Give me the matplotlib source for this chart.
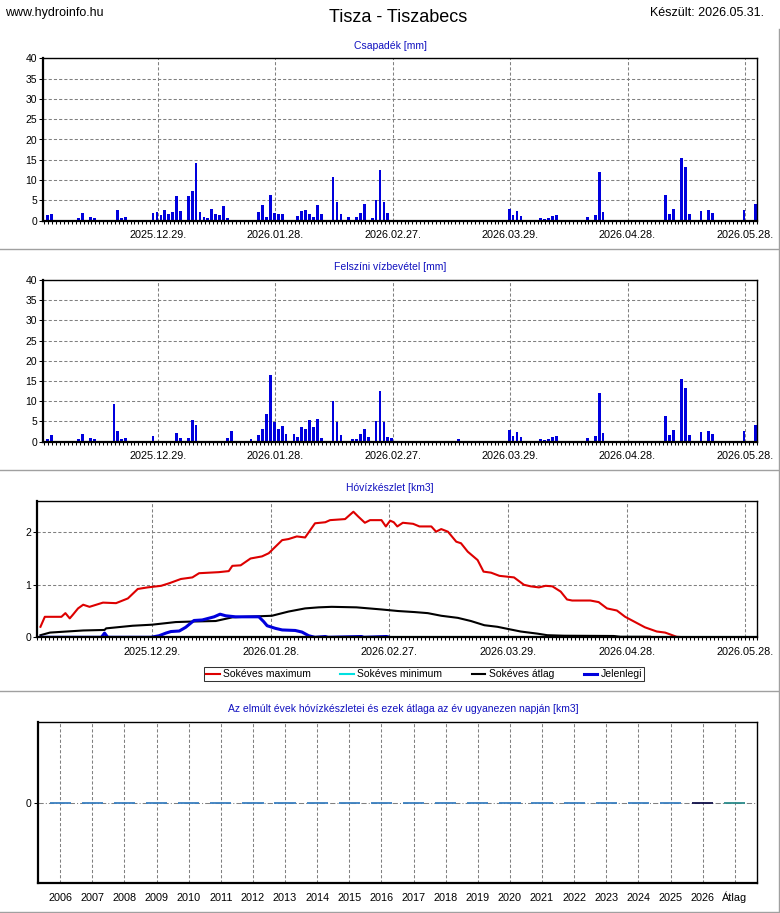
import numpy as np
import matplotlib
matplotlib.use('Agg')
import matplotlib.pyplot as plt
from matplotlib.lines import Line2D

plt.rcParams['font.family'] = ['Liberation Sans', 'DejaVu Sans']
plt.rcParams['font.size'] = 7.5

W, H = 780, 913

# napok sorszáma 2025.11.30-tól
tick_days = [29, 59, 89, 119, 149, 179]
tick_labels = ['2025.12.29.', '2026.01.28.', '2026.02.27.',
               '2026.03.29.', '2026.04.28.', '2026.05.28.']

# Csapadék [mm]
csap_days = [1, 2, 9, 10, 12, 13, 19, 20, 21,
             28, 29, 30, 31, 32, 33, 34, 35,
             37, 38, 39, 40, 41, 42, 43, 44, 45, 46, 47,
             55, 56, 57, 58, 59, 60, 61,
             65, 66, 67, 68, 69, 70, 71,
             74, 75, 76, 78, 80, 81, 82, 84, 85, 86, 87, 88,
             110, 119, 120, 121, 122, 127, 128, 129, 130, 131, 132,
             139, 141, 142, 143, 148, 159, 160, 161, 163, 164, 165,
             168, 170, 171, 172, 173, 179, 182]
csap_vals = [1.4, 1.7, 0.7, 1.9, 0.9, 0.7, 2.6, 0.7, 0.9,
             1.9, 2.1, 1.4, 2.6, 1.7, 2.1, 6.1, 2.4,
             6.1, 7.4, 14.3, 2.1, 0.9, 0.7, 2.9, 1.7, 1.4, 3.6, 0.7,
             2.1, 3.9, 0.9, 6.4, 1.9, 1.7, 1.7,
             1.2, 2.4, 2.6, 1.7, 0.9, 3.9, 1.7,
             10.8, 4.6, 1.7, 0.9, 0.9, 1.9, 4.1, 0.7, 5.1, 12.6, 4.6, 1.9,
             0.1, 2.9, 1.4, 2.4, 1.2, 0.7, 0.4, 0.7, 1.2, 1.4, 0.1,
             0.9, 1.4, 12.1, 2.1, 0.1, 6.4, 1.7, 2.9, 15.5, 13.3, 1.7,
             2.4, 2.6, 1.9, 0.1, 0.1, 2.6, 4.1]

# Felszíni vízbevétel [mm]
viz_days = [1, 2, 9, 10, 12, 13, 18, 19, 20, 21, 28,
            34, 35, 37, 38, 39, 47, 48, 53,
            55, 56, 57, 58, 59, 60, 61, 62,
            64, 65, 66, 67, 68, 69, 70, 71,
            74, 75, 76, 79, 80, 81, 82, 83, 85, 86, 87, 88, 89,
            106, 110, 119, 120, 121, 122, 127, 128, 129, 130, 131, 132,
            139, 141, 142, 143, 148, 159, 160, 161, 163, 164, 165,
            168, 170, 171, 172, 173, 179, 182]
viz_vals = [0.7, 1.7, 0.7, 1.9, 0.9, 0.7, 9.3, 2.6, 0.7, 0.9, 1.4,
            2.1, 0.9, 0.9, 5.4, 4.1, 0.9, 2.6, 0.7,
            1.7, 3.1, 6.9, 16.5, 4.9, 3.1, 3.9, 1.9,
            1.9, 1.2, 3.6, 3.1, 5.4, 3.6, 5.6, 0.9,
            10.1, 4.9, 1.7, 0.7, 0.7, 1.9, 3.1, 1.2, 5.1, 12.6, 4.8, 1.2, 0.9,
            0.7, 0.1, 2.9, 1.4, 2.4, 1.2, 0.7, 0.4, 0.7, 1.2, 1.4, 0.1,
            0.9, 1.4, 12.1, 2.1, 0.1, 6.4, 1.7, 2.9, 15.5, 13.3, 1.7,
            2.4, 2.6, 1.9, 0.1, 0.1, 2.6, 4.1]

# Hóvízkészlet [km3]
max_days = [0.8, 1.9, 6.1, 7.1, 8.2, 9, 10.3, 11.6, 13.2, 14.9, 16.6, 19.9,
            22.9, 25.4, 27.9, 31.3, 33.4, 36.3, 39.2, 40.9, 45.9, 48.4, 49.3,
            51.4, 53.9, 56.8, 58.5, 61.9, 63.5, 65.6, 67.7, 70.2, 72.8, 74,
            77.8, 79.9, 81.1, 82.8, 84.1, 87, 88.1, 89.2, 90.1, 91, 92.4, 95,
            96.6, 99.6, 100.8, 102.1, 103.8, 105.9, 107.1, 108.8, 111.3, 112.8,
            114.7, 116.8, 120.5, 123, 124.7, 126.8, 128.5, 130.2, 132.3, 133.9,
            135.2, 139.8, 141.9, 144, 146.5, 148.6, 151.1, 153.6, 156.6, 158.7,
            161.6, 163.7]
max_vals = [0.2, 0.39, 0.39, 0.46, 0.36, 0.43, 0.55, 0.62, 0.58, 0.62, 0.66, 0.65,
            0.74, 0.92, 0.95, 0.98, 1.03, 1.11, 1.14, 1.22, 1.24, 1.26, 1.36,
            1.37, 1.5, 1.54, 1.6, 1.85, 1.87, 1.92, 1.9, 2.17, 2.19, 2.23,
            2.25, 2.39, 2.3, 2.18, 2.23, 2.23, 2.11, 2.22, 2.19, 2.11, 2.18, 2.16,
            2.11, 2.11, 2.01, 2.06, 2.01, 1.82, 1.79, 1.63, 1.47, 1.25,
            1.23, 1.17, 1.14, 1.0, 0.97, 0.95, 0.98, 0.97, 0.87, 0.72,
            0.7, 0.7, 0.67, 0.55, 0.51, 0.39, 0.29, 0.19, 0.11, 0.09,
            0.01, 0.0]
min_days = [0.8, 181.9]
min_vals = [0.0, 0.0]
atl_days = [0.8, 3.2, 7.4, 11.6, 17, 17.4, 24.1, 29, 35, 39.2, 45.1, 49.3, 59.3,
            63.5, 67.7, 71.1, 74.4, 80.7, 87, 91.2, 95.4, 98.7, 102.1, 106.3,
            109.6, 113, 116.3, 118.9, 122.2, 126.4, 128.9, 133.1, 145.7, 147.4,
            154.9]
atl_vals = [0.04, 0.09, 0.11, 0.13, 0.14, 0.17, 0.22, 0.24, 0.29, 0.3, 0.31, 0.38, 0.41,
            0.49, 0.55, 0.57, 0.58, 0.57, 0.53, 0.5, 0.48, 0.46, 0.41, 0.37,
            0.31, 0.23, 0.2, 0.16, 0.11, 0.07, 0.04, 0.03, 0.025, 0.01,
            0.01]
jel_days = [0.8, 16.2, 17, 17.8, 28.7, 30.8, 32.5, 33.8, 35.9, 37.5, 39.6, 41.7,
            44.7, 46.2, 47.6, 50.1, 56, 57.2, 58.1, 60.2, 61.9, 65.2, 66.9, 68.6,
            70.2, 72.8, 73.5, 82, 82.5, 88.3, 89]
jel_vals = [0, 0, 0.08, 0, 0, 0.03, 0.08, 0.11, 0.12, 0.19, 0.32, 0.33,
            0.39, 0.44, 0.41, 0.39, 0.39, 0.3, 0.22, 0.17, 0.14, 0.13, 0.1, 0.03,
            0, 0.015, 0, 0.015, 0, 0.015, 0]

# Az elmúlt évek hóvízkészletei
ev_labels = [str(y) for y in range(2006, 2027)] + ['Átlag']
ev_vals = [0.0] * 22
ev_colors = ['#3a7fc0'] * 20 + ['#10104a', '#2a8a8a']

fig = plt.figure(figsize=(W / 100, H / 100), dpi=100)


def rect(l, r, t, b):
    return [l / W, 1 - b / H, (r - l) / W, (b - t) / H]


def keret(ax):
    ax.spines['left'].set_linewidth(1.6)
    ax.spines['bottom'].set_linewidth(1.6)
    ax.spines['top'].set_linewidth(1.0)
    ax.spines['right'].set_linewidth(1.0)
    ax.grid(True, color='#808080', linestyle=(0, (3, 2)), linewidth=0.75)
    ax.set_axisbelow(True)
    ax.tick_params(axis='y', length=3, width=0.75, pad=1.5)


def datum_tengely(ax):
    ax.set_xticks(tick_days)
    ax.set_xticklabels(tick_labels, fontsize=7.8)
    ax.set_xticks(np.arange(0, 183), minor=True)
    ax.tick_params(axis='x', which='major', length=2.5, width=0.75, pad=4.5)
    ax.tick_params(axis='x', which='minor', length=2.5, width=0.75)


def sav(ax, days, vals):
    keret(ax)
    ax.bar(np.array(days) - 0.25, vals, width=0.7, color='#0000dd', zorder=2)
    ax.set_xlim(-0.3, 181.8)
    ax.set_ylim(0, 40)
    ax.set_yticks(range(0, 41, 5))
    datum_tengely(ax)


ax1 = fig.add_axes(rect(43.3, 756.7, 58.3, 220.7))
sav(ax1, csap_days, csap_vals)
ax2 = fig.add_axes(rect(43.3, 756.7, 280, 441.7))
sav(ax2, viz_days, viz_vals)

ax3 = fig.add_axes(rect(37.3, 757.3, 500.7, 637.3))
keret(ax3)
l1, = ax3.plot(max_days, max_vals, color='#dd0000', lw=1.5, label='Sokéves maximum')
l2, = ax3.plot(min_days, min_vals, color='#00e0e0', lw=1.5, label='Sokéves minimum')
l3, = ax3.plot(atl_days, atl_vals, color='black', lw=1.5, label='Sokéves átlag')
l4, = ax3.plot(jel_days, jel_vals, color='#0000dd', lw=2.2, label='Jelenlegi')
ax3.set_xlim(0.8, 181.9)
ax3.set_ylim(0, 2.6)
ax3.set_yticks([0, 1, 2])
datum_tengely(ax3)
leg = fig.legend(handles=[l1, l2, l3, l4], loc='lower left', ncol=4, mode='expand',
                 bbox_to_anchor=(204 / W, 1 - 681.5 / H, 440 / W, 17 / H),
                 fontsize=7.5, frameon=True, fancybox=False, edgecolor='black',
                 handlelength=1.3, handletextpad=0.3, borderpad=0.2,
                 borderaxespad=0)
leg.get_frame().set_linewidth(0.75)

ax4 = fig.add_axes(rect(37.7, 757.3, 721.7, 883.3))
ax4.spines['left'].set_linewidth(1.6)
ax4.spines['bottom'].set_linewidth(1.6)
ax4.spines['top'].set_linewidth(1.0)
ax4.spines['right'].set_linewidth(1.0)
x4 = np.arange(len(ev_labels))
ax4.hlines(ev_vals, x4 - 0.33, x4 + 0.33, colors=ev_colors, lw=1.3, zorder=3)
ax4.set_xlim(-0.7, 21.7)
ax4.set_ylim(-1, 1)
ax4.set_yticks([0])
ax4.set_xticks(x4)
ax4.set_xticklabels(ev_labels, fontsize=7.8)
for t in ax4.get_xticklabels():
    t.set_va('baseline')
ax4.grid(True, axis='x', color='#808080', linestyle=(0, (3, 2)), linewidth=0.75)
ax4.grid(True, axis='y', color='#808080', linestyle=(0, (5, 2, 1, 2)), linewidth=0.75)
ax4.set_axisbelow(True)
ax4.tick_params(axis='x', length=0, pad=13)
ax4.tick_params(axis='y', length=3, width=0.75, pad=1.5)

# fejléc és panelcímek
fig.text(5 / W, 1 - 13 / H, 'www.hydroinfo.hu', fontsize=9, va='center')
fig.text(398 / W, 1 - 17 / H, 'Tisza - Tiszabecs', fontsize=13, ha='center', va='center')
fig.text(764 / W, 1 - 13 / H, 'Készült: 2026.05.31.', fontsize=9, ha='right', va='center')
cim_szin = '#1010c0'
fig.text(390 / W, 1 - 46 / H, 'Csapadék [mm]', color=cim_szin, ha='center', va='center')
fig.text(390 / W, 1 - 267 / H, 'Felszíni vízbevétel [mm]', color=cim_szin, ha='center', va='center')
fig.text(390 / W, 1 - 488 / H, 'Hóvízkészlet [km3]', color=cim_szin, ha='center', va='center')
fig.text(403 / W, 1 - 709 / H,
         'Az elmúlt évek hóvízkészletei és ezek átlaga az év ugyanezen napján [km3]',
         color=cim_szin, ha='center', va='center')

# szürke panelkeretek
for y in [249.5, 470.5, 690.5, 911.5]:
    fig.add_artist(Line2D([0, 778.5 / W], [1 - y / H] * 2, color='#a0a0a0', lw=1,
                          transform=fig.transFigure))
fig.add_artist(Line2D([778.5 / W] * 2, [1 - 29 / H, 1 - 911.5 / H], color='#a0a0a0', lw=1,
                      transform=fig.transFigure))

fig.savefig('out.png', dpi=100)
